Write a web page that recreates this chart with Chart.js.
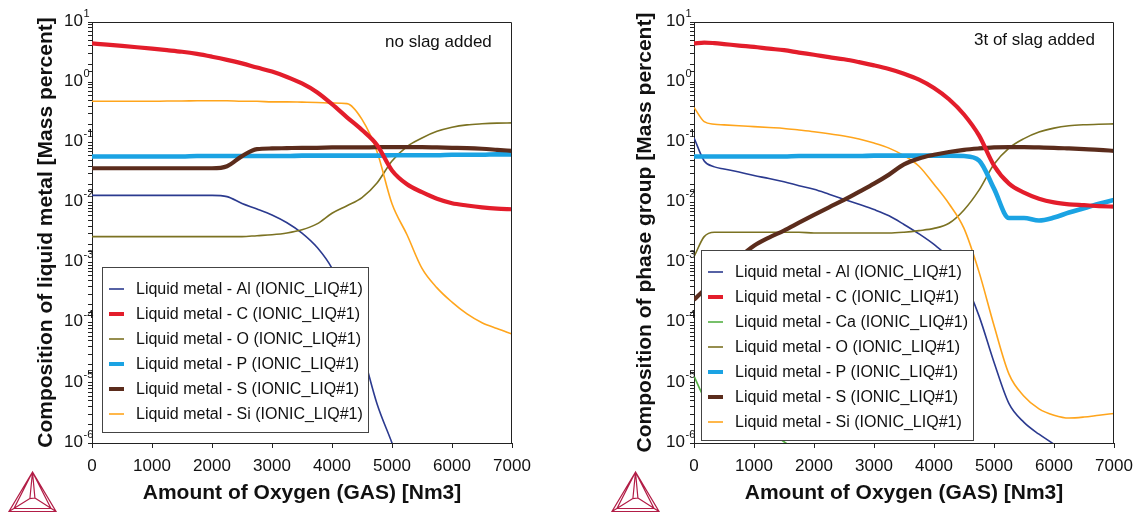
<!DOCTYPE html>
<html>
<head>
<meta charset="utf-8">
<title>Liquid metal composition vs oxygen</title>
<script src="https://cdn.jsdelivr.net/npm/chart.js@4.4.1/dist/chart.umd.min.js"></script>
<style>
    body { margin: 0; background: #fff; }
    .wrap { display: flex; width: 1136px; height: 513px; }
    canvas { display: block; }
</style>
</head>
<body>
<div class="wrap">
    <canvas id="chartNoSlag" width="568" height="513"></canvas>
    <canvas id="chartSlag" width="568" height="513"></canvas>
</div>
<script>
// ---- data (mass percent, log scale) ----

// left plot: no slag added
const oxygenNoSlag = [0, 250, 500, 750, 1000, 1250, 1500, 1750, 2000, 2250, 2500, 2750, 3000, 3250, 3500,
    3750, 4000, 4250, 4500, 4750, 5000, 5250, 5500, 5750, 6000, 6250, 6500, 6750, 7000];

const alNoSlag = [0.0131, 0.0131, 0.0131, 0.0131, 0.0131, 0.0131, 0.0131, 0.0131, 0.0131, 0.0125, 0.0096,
    0.0078, 0.0062, 0.0046, 0.0031, 0.0018, 0.0008, 0.0002, 0.000035, 0.0000045, 0.000001, 0.0000002,
    null, null, null, null, null, null, null];
const cNoSlag = [4.4, 4.2, 4.0, 3.8, 3.6, 3.4, 3.2, 2.95, 2.65, 2.35, 2.05, 1.75, 1.5, 1.22, 0.95, 0.68,
    0.43, 0.26, 0.16, 0.09, 0.034, 0.02, 0.0148, 0.0115, 0.0097, 0.0089, 0.0083, 0.0079, 0.0077];
const oNoSlag = [0.0027, 0.0027, 0.0027, 0.0027, 0.0027, 0.0027, 0.0027, 0.0027, 0.0027, 0.0027, 0.0027,
    0.0028, 0.0029, 0.0031, 0.0035, 0.0044, 0.0066, 0.0088, 0.012, 0.021, 0.049, 0.085, 0.118, 0.152,
    0.178, 0.195, 0.203, 0.208, 0.21];
const pNoSlag = [0.058, 0.058, 0.058, 0.058, 0.058, 0.058, 0.058, 0.059, 0.059, 0.059, 0.059, 0.059, 0.059,
    0.059, 0.06, 0.06, 0.06, 0.06, 0.06, 0.06, 0.061, 0.061, 0.061, 0.061, 0.062, 0.062, 0.062, 0.063, 0.063];
const sNoSlag = [0.037, 0.037, 0.037, 0.037, 0.037, 0.037, 0.037, 0.037, 0.037, 0.040, 0.059, 0.077, 0.079,
    0.08, 0.081, 0.081, 0.082, 0.082, 0.082, 0.083, 0.083, 0.083, 0.083, 0.082, 0.081, 0.08, 0.078,
    0.075, 0.072];
const siNoSlag = [0.48, 0.48, 0.48, 0.48, 0.48, 0.485, 0.485, 0.49, 0.49, 0.49, 0.48, 0.48, 0.47, 0.47,
    0.465, 0.46, 0.45, 0.44, 0.24, 0.07, 0.0095, 0.0029, 0.0008, 0.00038, 0.00022, 0.00014, 0.0001,
    0.00008, 0.000065];

// right plot: 3t of slag added
const oxygenSlag = [0, 170, 340, 500, 750, 1000, 1250, 1500, 1750, 2000, 2250, 2500, 2750, 3000, 3250,
    3500, 3750, 4000, 4250, 4500, 4750, 5000, 5250, 5500, 5750, 6000, 6250, 6500, 6750, 7000];

const alSlag = [0.119, 0.049, 0.039, 0.036, 0.032, 0.028, 0.025, 0.022, 0.019, 0.0165, 0.0137, 0.0113,
    0.0093, 0.0076, 0.006, 0.0043, 0.003, 0.002, 0.0012, 0.0005, 0.00013, 0.000022, 0.0000045,
    0.0000022, 0.0000014, 0.00000095, 0.0000006, null, null, null];
const cSlag = [4.4, 4.55, 4.45, 4.3, 4.05, 3.85, 3.6, 3.4, 3.1, 2.85, 2.6, 2.4, 2.15, 1.9, 1.65, 1.38, 1.1,
    0.8, 0.52, 0.29, 0.13, 0.041, 0.0205, 0.0145, 0.0115, 0.01, 0.0093, 0.009, 0.0087, 0.0085];
const caSlag = [0.000013, 0.0000058, 0.0000045, 0.0000037, 0.0000028, 0.000002, 0.0000015, 0.00000105,
    0.0000007, null, null, null, null, null, null, null, null, null, null, null, null, null, null, null,
    null, null, null, null, null, null];
const oSlag = [0.00125, 0.0027, 0.0032, 0.0032, 0.0032, 0.0032, 0.0032, 0.0032, 0.0032, 0.0031, 0.0031,
    0.0031, 0.0031, 0.0031, 0.0031, 0.0032, 0.0034, 0.0037, 0.0045, 0.0075, 0.016, 0.043, 0.08, 0.115,
    0.148, 0.172, 0.188, 0.196, 0.2, 0.202];
const pSlag = [0.058, 0.058, 0.058, 0.058, 0.058, 0.058, 0.058, 0.058, 0.059, 0.059, 0.059, 0.059, 0.059,
    0.06, 0.06, 0.06, 0.06, 0.06, 0.06, 0.059, 0.05, 0.017, 0.0055, 0.0055, 0.005, 0.0056, 0.0068,
    0.008, 0.0095, 0.011];
const sSlag = [0.00024, 0.00035, 0.0005, 0.0007, 0.0012, 0.0019, 0.0026, 0.0034, 0.0046, 0.0062, 0.0083,
    0.011, 0.015, 0.0205, 0.029, 0.043, 0.054, 0.062, 0.069, 0.075, 0.079, 0.082, 0.083, 0.083, 0.082,
    0.081, 0.079, 0.077, 0.075, 0.072];
const siSlag = [0.38, 0.22, 0.2, 0.195, 0.188, 0.182, 0.176, 0.17, 0.16, 0.15, 0.139, 0.127, 0.113, 0.097,
    0.08, 0.06, 0.04, 0.02, 0.0095, 0.0037, 0.0007, 0.00009, 0.000014, 0.000006, 0.0000037, 0.0000029,
    0.0000026, 0.0000027, 0.0000029, 0.0000031];

const yTickExponents = [-6, -5, -4, -3, -2, -1, 0, 1];
const xTitle = 'Amount of Oxygen (GAS) [Nm3]';

// ---- styles ----
const colours = {
    Al: '#2b3a8f', C: '#e31d2b', Ca: '#55b044', O: '#7b7222',
    P: '#1ba3e3', S: '#5b2c1c', Si: '#ffa51c'
};
const widths = {Al: 1.6, C: 4.2, Ca: 1.6, O: 1.6, P: 4.6, S: 4.2, Si: 1.6};
const drawOrder = {C: 0, S: 1, P: 2, Si: 3, O: 4, Al: 5, Ca: 6};
const fontFamily = '"Liberation Sans", Arial, sans-serif';

Chart.defaults.font.family = fontFamily;
Chart.defaults.color = '#111';

function drawLogo(ctx, x0) {
    const w = 47, top = 472, base = 511.5;
    const ax = x0 + w / 2, cx = ax - 0.6, cy = 498.5;
    ctx.save();
    ctx.strokeStyle = '#b21d46';
    ctx.lineWidth = 1.2;
    ctx.beginPath();
    ctx.moveTo(ax, top); ctx.lineTo(x0, base); ctx.lineTo(x0 + w, base); ctx.closePath();
    ctx.moveTo(ax, top); ctx.lineTo(x0 + 5, base - 3); ctx.lineTo(x0 + w - 5, base - 3); ctx.closePath();
    ctx.moveTo(ax, top); ctx.lineTo(cx - 2, cy); ctx.lineTo(cx + 3, cy - 0.5); ctx.closePath();
    ctx.moveTo(cx - 2, cy); ctx.lineTo(x0, base);
    ctx.moveTo(cx + 3, cy - 0.5); ctx.lineTo(x0 + w, base);
    ctx.stroke();
    ctx.restore();
}

const decorPlugin = {
    id: 'decor',
    afterDatasetsDraw(chart, args, opts) {
        const ctx = chart.ctx;
        const area = chart.chartArea;
        const yScale = chart.scales.y;
        ctx.save();

        // frame on top and right
        ctx.strokeStyle = '#222';
        ctx.lineWidth = 1;
        ctx.beginPath();
        ctx.moveTo(area.left, area.top + 0.5);
        ctx.lineTo(area.right - 0.5, area.top + 0.5);
        ctx.lineTo(area.right - 0.5, area.bottom);
        ctx.stroke();

        // y tick labels as 10 with a raised exponent
        yTickExponents.forEach(e => {
            const y = yScale.getPixelForValue(Math.pow(10, e));
            const xr = area.left - 9;
            ctx.fillStyle = '#111';
            ctx.font = '17px ' + fontFamily;
            ctx.textAlign = 'right';
            ctx.textBaseline = 'middle';
            ctx.fillText('10', xr, y - 1);
            ctx.font = '11px ' + fontFamily;
            ctx.textAlign = 'left';
            ctx.fillText(String(e), xr + 0.5, y - 8);
        });

        // note in the top right corner
        ctx.font = '17px ' + fontFamily;
        ctx.textAlign = 'left';
        ctx.textBaseline = 'middle';
        ctx.fillStyle = '#111';
        ctx.fillText(opts.note, opts.noteX, opts.noteY);

        // legend box
        const sets = chart.data.datasets;
        const lx = opts.legendX, ly = opts.legendY, lw = opts.legendW;
        const lh = sets.length * 25 + 15;
        ctx.fillStyle = '#fff';
        ctx.fillRect(lx, ly, lw, lh);
        ctx.strokeStyle = '#444';
        ctx.lineWidth = 1;
        ctx.strokeRect(lx + 0.5, ly + 0.5, lw, lh);
        sets.forEach((ds, i) => {
            const cy = ly + 22 + i * 25;
            ctx.strokeStyle = ds.borderColor;
            ctx.lineWidth = Math.min(ds.borderWidth, 4);
            ctx.beginPath();
            ctx.moveTo(lx + 7, cy);
            ctx.lineTo(lx + 22, cy);
            ctx.stroke();
            ctx.fillStyle = '#111';
            ctx.font = '16px ' + fontFamily;
            ctx.fillText(ds.label, lx + 34, cy + 1);
        });

        drawLogo(ctx, opts.logoX);
        ctx.restore();
    }
};

function makeDataset(name, xs, values) {
    return {
        label: 'Liquid metal - ' + name + ' (IONIC_LIQ#1)',
        data: xs.map((x, i) => ({x: x, y: values[i]})),
        borderColor: colours[name],
        backgroundColor: colours[name],
        borderWidth: widths[name],
        order: drawOrder[name],
        pointRadius: 0,
        fill: false,
        cubicInterpolationMode: 'monotone'
    };
}

function buildChart(canvasId, datasets, yTitle, layout) {
    const ctx = document.getElementById(canvasId).getContext('2d');
    return new Chart(ctx, {
        type: 'line',
        data: {datasets: datasets},
        plugins: [decorPlugin],
        options: {
            responsive: false,
            animation: false,
            devicePixelRatio: 1,
            spanGaps: false,
            layout: {padding: {left: 0, right: layout.rightPad, top: 22, bottom: 0}},
            plugins: {
                legend: {display: false},
                tooltip: {enabled: false},
                decor: layout.decor
            },
            scales: {
                x: {
                    type: 'linear',
                    min: 0,
                    max: 7000,
                    ticks: {
                        stepSize: 1000, maxRotation: 0, autoSkip: false, padding: 8,
                        font: {size: 17}, color: '#111',
                        callback: value => String(value)
                    },
                    grid: {drawOnChartArea: false, tickLength: 5, color: '#222'},
                    border: {color: '#222'},
                    title: {display: true, text: xTitle, color: '#111', font: {size: 21, weight: 'bold'}, padding: {top: 0, bottom: 7}},
                    afterFit: function (scale) {
                        scale.height = 70;
                        // let the end labels hang into the page margin instead of shrinking the plot
                        scale.paddingLeft = 0;
                        scale.paddingRight = 0;
                    }
                },
                y: {
                    type: 'logarithmic',
                    min: 1e-6,
                    max: 10,
                    ticks: {display: false, autoSkip: false},
                    grid: {drawOnChartArea: false, tickLength: 4, color: '#222'},
                    border: {color: '#222'},
                    title: {display: true, text: yTitle, color: '#111', font: {size: 21, weight: 'bold'}, padding: {top: layout.titlePad, bottom: 0}},
                    afterFit: function (scale) { scale.width = layout.axisWidth; }
                }
            }
        }
    });
}

buildChart('chartNoSlag', [
    makeDataset('Al', oxygenNoSlag, alNoSlag),
    makeDataset('C', oxygenNoSlag, cNoSlag),
    makeDataset('O', oxygenNoSlag, oNoSlag),
    makeDataset('P', oxygenNoSlag, pNoSlag),
    makeDataset('S', oxygenNoSlag, sNoSlag),
    makeDataset('Si', oxygenNoSlag, siNoSlag)
], 'Composition of liquid metal [Mass percent]', {
    rightPad: 56, axisWidth: 92, titlePad: 34,
    decor: {note: 'no slag added', noteX: 385, noteY: 42, legendX: 102, legendY: 267, legendW: 266, logoX: 9}
});

buildChart('chartSlag', [
    makeDataset('Al', oxygenSlag, alSlag),
    makeDataset('C', oxygenSlag, cSlag),
    makeDataset('Ca', oxygenSlag, caSlag),
    makeDataset('O', oxygenSlag, oSlag),
    makeDataset('P', oxygenSlag, pSlag),
    makeDataset('S', oxygenSlag, sSlag),
    makeDataset('Si', oxygenSlag, siSlag)
], 'Composition of phase group [Mass percent]', {
    rightPad: 22, axisWidth: 126, titlePad: 65,
    decor: {note: '3t of slag added', noteX: 406, noteY: 40, legendX: 133, legendY: 250, legendW: 272, logoX: 44}
});
</script>
</body>
</html>
